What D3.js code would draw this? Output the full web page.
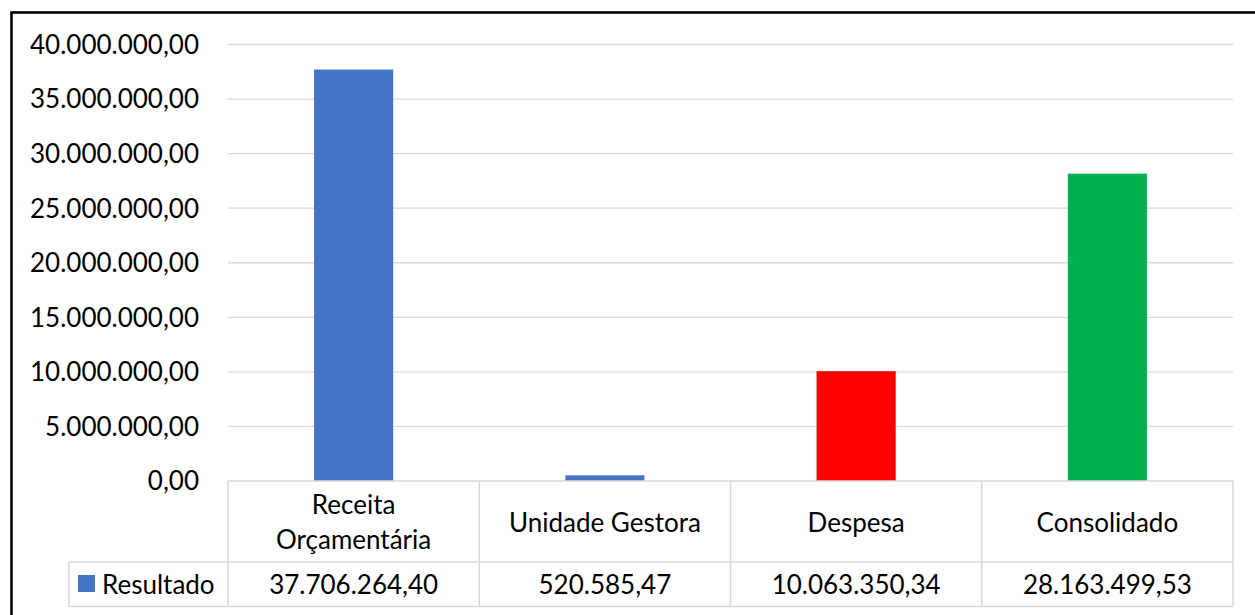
<!DOCTYPE html>
<html>
<head>
<meta charset="utf-8">
<script src="https://cdn.jsdelivr.net/npm/d3@7"></script>
<style>
  html, body { margin: 0; padding: 0; background: #fff; }
  svg { display: block; }
  text { font-family: Lato, "Open Sans", "Liberation Sans", sans-serif; fill: #000; }
</style>
</head>
<body>
<svg id="chart" width="1255" height="615"></svg>
<script>
const categories = ["Receita Orçamentária", "Unidade Gestora", "Despesa", "Consolidado"];
const values = [37706264.40, 520585.47, 10063350.34, 28163499.53];
const barColors = ["#4472C4", "#4472C4", "#FF0000", "#00B050"];
const seriesName = "Resultado";
const yTicks = [0, 5000000, 10000000, 15000000, 20000000, 25000000, 30000000, 35000000, 40000000];

(function () {
const locale = d3.formatLocale({ decimal: ",", thousands: ".", grouping: [3], currency: ["R$", ""] });
const fmt = locale.format(",.2f");

const svg = d3.select("#chart");
const FS = 26;

// Outer frame (extends past right & bottom of the view)
svg.append("rect")
  .attr("x", 11.5).attr("y", 12.5)
  .attr("width", 1300).attr("height", 700)
  .attr("fill", "none").attr("stroke", "#000").attr("stroke-width", 2.6);

const plotLeft = 228, plotRight = 1233, plotTop = 44.5, base = 481;
const x = d3.scaleBand().domain(categories).range([plotLeft, plotRight]).paddingInner(0).paddingOuter(0);
const y = d3.scaleLinear().domain([0, 40000000]).range([base, plotTop]);

// Gridlines
svg.append("g").selectAll("line").data(yTicks.filter(d => d > 0)).join("line")
  .attr("x1", plotLeft).attr("x2", plotRight)
  .attr("y1", d => y(d)).attr("y2", d => y(d))
  .attr("stroke", "#d9d9d9").attr("stroke-width", 1.3);

// Y labels
svg.append("g").selectAll("text").data(yTicks).join("text")
  .attr("x", 199).attr("y", d => y(d))
  .attr("dy", "0.36em")
  .attr("text-anchor", "end")
  .attr("font-size", FS)
  .text(d => fmt(d));

// Bars
const bw = x.bandwidth() * 0.315;
svg.append("g").selectAll("rect").data(categories).join("rect")
  .attr("x", d => x(d) + x.bandwidth() / 2 - bw / 2)
  .attr("width", bw)
  .attr("y", (d, i) => y(values[i]))
  .attr("height", (d, i) => base - y(values[i]))
  .attr("fill", (d, i) => barColors[i]);

// Data table
const rowDiv = 562, tableBottom = 606.5, legendLeft = 69;
const tg = svg.append("g").attr("stroke", "#d9d9d9").attr("stroke-width", 1.5);
tg.append("line").attr("x1", plotLeft).attr("x2", plotRight).attr("y1", base).attr("y2", base);
tg.append("line").attr("x1", legendLeft).attr("x2", plotRight).attr("y1", rowDiv).attr("y2", rowDiv);
tg.append("line").attr("x1", legendLeft).attr("x2", plotRight).attr("y1", tableBottom).attr("y2", tableBottom);
tg.append("line").attr("x1", legendLeft).attr("x2", legendLeft).attr("y1", rowDiv).attr("y2", tableBottom);
const dividers = categories.map(c => x(c)).concat([plotRight]);
tg.selectAll("line.v").data(dividers).join("line").attr("class", "v")
  .attr("x1", d => d).attr("x2", d => d).attr("y1", base).attr("y2", tableBottom);

// Category labels (wrapped)
const catG = svg.append("g");
categories.forEach(c => {
  const t = catG.append("text")
    .attr("x", x(c) + x.bandwidth() / 2)
    .attr("text-anchor", "middle")
    .attr("font-size", FS);
  t.text(c);
  let lines = [c];
  if (t.node().getComputedTextLength() > x.bandwidth() - 20) {
    lines = c.split(" ");
  }
  t.text(null);
  const lh = 35;
  const cy = (base + rowDiv) / 2 + 1;
  lines.forEach((ln, i) => {
    t.append("tspan")
      .attr("x", x(c) + x.bandwidth() / 2)
      .attr("y", cy + (i - (lines.length - 1) / 2) * lh)
      .attr("dy", "0.36em")
      .text(ln);
  });
});

// Values row
const valY = (rowDiv + tableBottom) / 2;
svg.append("g").selectAll("text").data(categories).join("text")
  .attr("x", d => x(d) + x.bandwidth() / 2)
  .attr("y", valY).attr("dy", "0.36em")
  .attr("text-anchor", "middle")
  .attr("font-size", FS)
  .text((d, i) => fmt(values[i]));

// Legend key
svg.append("rect").attr("x", 78).attr("y", 575).attr("width", 17).attr("height", 17).attr("fill", barColors[0]);
svg.append("text").attr("x", 102).attr("y", valY).attr("dy", "0.36em")
  .attr("font-size", FS).text(seriesName);
})();
</script>
</body>
</html>
